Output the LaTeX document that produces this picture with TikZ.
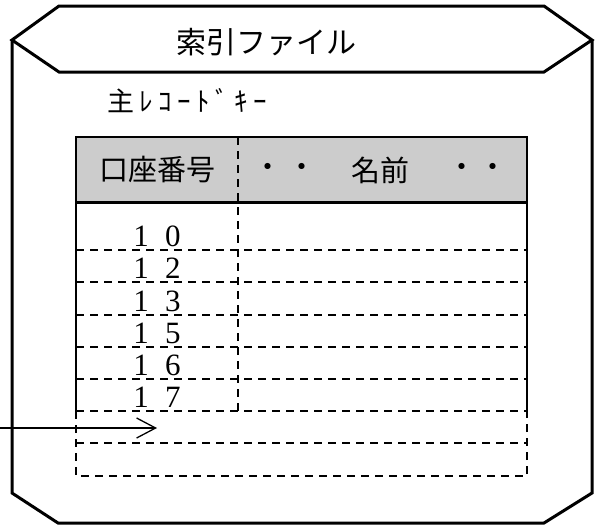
\documentclass[tikz,border=0pt]{standalone}
\usepackage{fontspec}
\newfontfamily\jp{Noto Sans CJK JP}
\newfontfamily\jpsp[LetterSpace=20]{Noto Sans CJK JP}
\newfontfamily\numfont{Liberation Serif}
\usetikzlibrary{arrows.meta}
\begin{document}
\begin{tikzpicture}[x=1pt,y=-1pt,
  outer/.style={line width=3pt, line join=miter},
  tab/.style={line width=2.2pt},
  dsh/.style={line width=2.2pt, dash pattern=on 8pt off 6pt},
  vdsh/.style={line width=1.4pt, dash pattern=on 8pt off 6pt},
  num/.style={anchor=base, inner sep=0pt, font=\numfont\fontsize{31}{34}\selectfont},
  hdr/.style={inner sep=0pt, font=\jp\fontsize{29}{33}\selectfont},
  dotc/.style={inner sep=0pt, font=\jp\fontsize{29}{33}\selectfont}]
\useasboundingbox (0,0) rectangle (596,525);
% outer file shape
\draw[outer] (12,40) -- (59,6) -- (544,6) -- (592,40) -- (544,72) -- (59,72) -- cycle;
\draw[outer] (12,40) -- (12,493) -- (58,523) -- (544,523) -- (592,493) -- (592,40);
\node[inner sep=0pt, font=\jp\fontsize{30}{34}\selectfont] (title) at (266,42) {索引ファイル};
\node[inner sep=0pt, anchor=west, font=\jpsp\fontsize{27}{30}\selectfont] (key) at (107,101) {主ﾚｺｰﾄﾞｷｰ};
% table header
\fill[black!20] (76,137) rectangle (527,202);
\draw[tab] (76,411) -- (76,137) -- (527,137) -- (527,411);
\draw[line width=3pt] (76,202) -- (527,202);
\draw[vdsh] (238,137) -- (238,411);
\foreach \yy in {250,282,315,347,379,411} \draw[dsh] (76,\yy) -- (527,\yy);
\draw[dsh] (76,411) -- (76,476) -- (527,476) -- (527,411);
\draw[dsh] (76,443) -- (527,443);
\node[hdr] (h1) at (157,170) {口座番号};
\node[dotc] (d1) at (268,170) {・};
\node[dotc] (d2) at (302,170) {・};
\node[hdr] (h2) at (380,170) {名前};
\node[dotc] (d3) at (462,170) {・};
\node[dotc] (d4) at (493,170) {・};
% numbers
\node[num] (n10) at (157,246) {1\hspace{0.52em}0};
\node[num] (n12) at (157,278) {1\hspace{0.52em}2};
\node[num] (n13) at (157,311) {1\hspace{0.52em}3};
\node[num] (n15) at (157,343) {1\hspace{0.52em}5};
\node[num] (n16) at (157,375) {1\hspace{0.52em}6};
\node[num] (n17) at (157,407) {1\hspace{0.52em}7};
% arrow
\coordinate (as) at (0,428);
\coordinate (ae) at (157,428);
\draw[line width=1.3pt, -{Straight Barb[length=19pt,width=20pt,line width=1.3pt]}] (as) -- (ae);
\end{tikzpicture}
\end{document}
